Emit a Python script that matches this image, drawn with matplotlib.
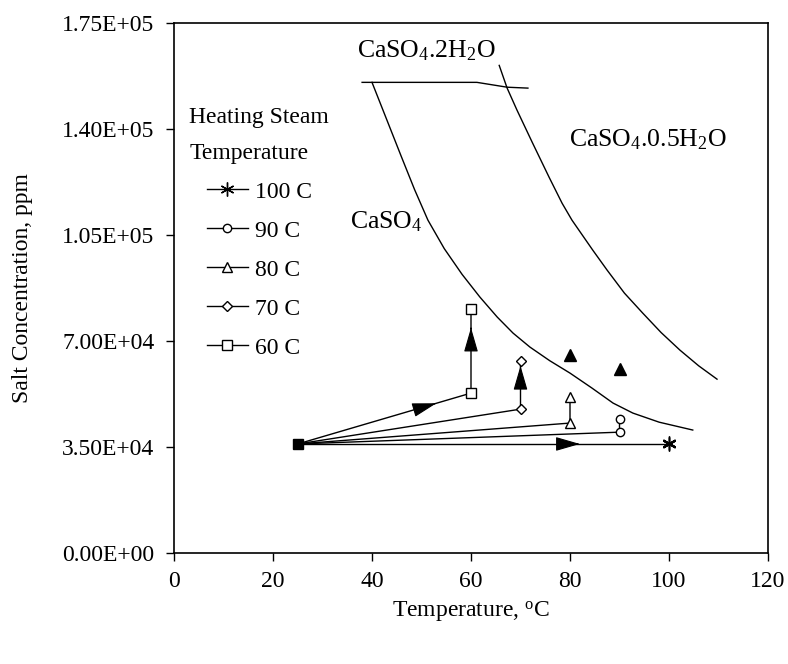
import matplotlib
matplotlib.use("Agg")
import matplotlib.pyplot as plt
from matplotlib.lines import Line2D

plt.rcParams['font.family'] = ['Liberation Serif', 'DejaVu Serif']
plt.rcParams['mathtext.fontset'] = 'custom'
plt.rcParams['mathtext.rm'] = 'Liberation Serif'
plt.rcParams['mathtext.it'] = 'Liberation Serif:italic'
plt.rcParams['font.size'] = 17

# ---------------- data ----------------
start_temp = 25
start_conc = 36000

steam_labels = ["100 C", "90 C", "80 C", "70 C", "60 C"]
steam_temps = [100, 90, 80, 70, 60]
conc_first = [36000, 39900, 42900, 47500, 52800]
conc_second = [36300, 44200, 51500, 63400, 80500]
markers = [(6, 2, 0), "o", "^", "D", "s"]
marker_sizes = [10, 6, 7, 5.5, 6.5]

scale_temp = [80, 90]
scale_conc = [65300, 60700]

gypsum_t = [38.0, 61.2, 67.3, 71.5]
gypsum_c = [155400, 155400, 153800, 153500]

anhydrite_t = [40.0, 43.0, 45.9, 48.6, 51.3, 54.6, 58.2, 61.8, 65.3, 68.5, 71.9, 75.9,
               80.0, 84.4, 88.7, 92.7, 98.0, 104.8]
anhydrite_c = [155400, 143000, 131000, 120000, 109900, 100500, 92000, 84500, 77900, 72600,
               68000, 63500, 59400, 54500, 49500, 46200, 43200, 40600]

hemi_t = [65.7, 67.3, 69.3, 72.4, 75.8, 78.4, 80.4, 84.6, 87.5, 91.0, 94.7, 98.4, 102.2, 106.0, 109.7]
hemi_c = [161000, 153500, 146200, 135500, 124000, 115500, 109900, 100000, 93400, 85800,
          79200, 72800, 67000, 61800, 57400]

x_ticks = [0, 20, 40, 60, 80, 100, 120]
y_ticks = [0, 35000, 70000, 105000, 140000, 175000]
y_tick_labels = ["0.00E+00", "3.50E+04", "7.00E+04", "1.05E+05", "1.40E+05", "1.75E+05"]

# ---------------- figure ----------------
fig = plt.figure(figsize=(7.88, 6.64), dpi=100)
ax = fig.add_axes([174/788, 1-553/664, (768-174)/788, (553-23)/664])

lw = 1.0
# solubility curves
ax.plot(gypsum_t, gypsum_c, color='black', lw=lw)
ax.plot(anhydrite_t, anhydrite_c, color='black', lw=lw)
ax.plot(hemi_t, hemi_c, color='black', lw=lw)

# process paths
for T, c1, c2, m, ms in zip(steam_temps, conc_first, conc_second, markers, marker_sizes):
    ax.plot([start_temp, T, T], [start_conc, c1, c2], color='black', lw=lw, zorder=3)
    ax.plot([T, T], [c1, c2], linestyle='none', marker=m, ms=ms,
            mfc='white', mec='black', mew=1.0, zorder=4)

# start point
ax.plot([start_temp], [start_conc], marker='s', ms=7.5, color='black', zorder=5)

# scaling points
ax.plot(scale_temp, scale_conc, linestyle='none', marker='^', ms=9, color='black', zorder=4)

# arrow heads
def arrowhead(p0, p1, frac):
    x = p0[0] + (p1[0]-p0[0])*frac
    y = p0[1] + (p1[1]-p0[1])*frac
    xb = p0[0] + (p1[0]-p0[0])*(frac-0.01)
    yb = p0[1] + (p1[1]-p0[1])*(frac-0.01)
    ax.annotate('', xy=(x, y), xytext=(xb, yb),
                arrowprops=dict(arrowstyle='-|>,head_length=0.9,head_width=0.26',
                                color='black', lw=0.8, shrinkA=0, shrinkB=0),
                zorder=6)

arrowhead((start_temp, start_conc), (steam_temps[4], conc_first[4]), 0.80)
arrowhead((start_temp, start_conc), (steam_temps[0], conc_first[0]), 0.76)
arrowhead((steam_temps[4], conc_first[4]), (steam_temps[4], conc_second[4]), 0.78)
arrowhead((steam_temps[3], conc_first[3]), (steam_temps[3], conc_second[3]), 0.90)

# labels of regions
ax.text(36.9, 166000, r'CaSO$_4$.2H$_2$O', ha='left', va='center', fontsize=18.5)
ax.text(79.7, 136500, r'CaSO$_4$.0.5H$_2$O', ha='left', va='center', fontsize=18.5)
ax.text(35.5, 109300, r'CaSO$_4$', ha='left', va='center', fontsize=18.5)

# legend
handles = [Line2D([0], [0], color='black', lw=lw, marker=m, ms=ms, mfc='white', mec='black')
           for m, ms in zip(markers, marker_sizes)]
leg = ax.legend(handles, steam_labels, title='Heating Steam\nTemperature',
                loc='upper left', bbox_to_anchor=(0.01, 0.859), frameon=False,
                fontsize=17, title_fontsize=17, labelspacing=0.74,
                handlelength=1.75, handletextpad=0.3, borderaxespad=0.0)
leg.get_title().set_linespacing(1.9)

ax.set_xlim(0, 120)
ax.set_ylim(0, 175000)
ax.set_xticks(x_ticks)
ax.set_xticklabels([str(t) for t in x_ticks])
ax.set_yticks(y_ticks)
ax.set_yticklabels(y_tick_labels)
ax.tick_params(direction='out', length=6, width=1.0, labelsize=17, pad=8)
ax.tick_params(axis='x', pad=7)
for s in ax.spines.values():
    s.set_linewidth(1.2)

ax.set_xlabel(r'Temperature, $^{\mathrm{o}}$C', fontsize=17, labelpad=5)
ax.set_ylabel('Salt Concentration, ppm', fontsize=17, labelpad=21)

fig.savefig('out.png', dpi=100)
